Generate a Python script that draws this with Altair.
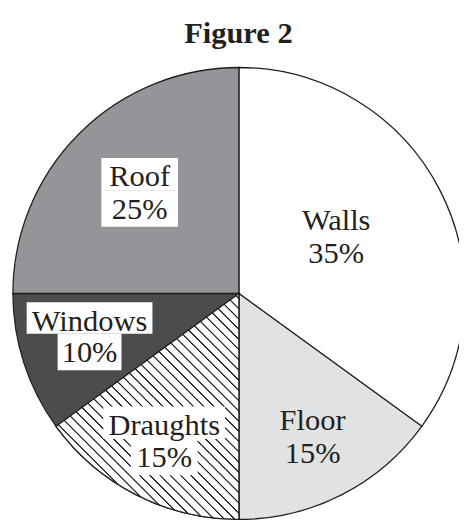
import math
import altair as alt
import pandas as pd

# ---------------- data ----------------
categories = ["Walls", "Floor", "Draughts", "Windows", "Roof"]
percent = [35, 15, 15, 10, 25]
pct_labels = ["35%", "15%", "15%", "10%", "25%"]
fills = ["#ffffff", "#e1e2e3", "#ffffff", "#4b4c4e", "#939598"]

# ---------------- layout (page pixels) ----------------
PAD_TOP = 60
SVG_H = 514
OX, OY = 8, 8 + PAD_TOP          # page -> view offset
CX, CY, R = 243, 294, 230        # pie centre and radius
label_cx = [342, 318, 167, 91, 142]
label_base1 = [229, 433, 438, 332, 185]
line_gap = [34, 34, 33, 32, 33]
boxed = [False, False, True, True, True]
box_w1 = [0, 0, 124, 128, 78]
box_w2 = [0, 0, 68, 65, 78]
INK = "#231f20"
FONT = "Liberation Serif"

pie_df = pd.DataFrame({
    "category": categories,
    "value": percent,
    "order": list(range(len(categories))),
})

rows_t, rows_b = [], []
for i, cat in enumerate(categories):
    b1 = label_base1[i]
    b2 = b1 + line_gap[i]
    for txt, b in ((cat, b1), (pct_labels[i], b2)):
        rows_t.append({"t": txt, "x": label_cx[i] - OX, "y": b - OY})
    if boxed[i]:
        top1 = b1 - 29
        top2 = b2 - 29
        rows_b.append({"x": label_cx[i] - box_w1[i] / 2 - OX, "x2": label_cx[i] + box_w1[i] / 2 - OX,
                       "y": top1 - OY, "y2": top2 - OY})
        rows_b.append({"x": label_cx[i] - box_w2[i] / 2 - OX, "x2": label_cx[i] + box_w2[i] / 2 - OX,
                       "y": top2 - OY, "y2": b2 + 8 - OY})
text_df = pd.DataFrame(rows_t)
box_df = pd.DataFrame(rows_b)

# ---------------- hatch gradient for Draughts ----------------
N = 40
ext = 294.0
stops = [{"offset": 0, "color": "#ffffff"}]
for k in range(N):
    c = (k + 0.5) / N
    a, b = 0.9 / ext, 0.35 / ext
    stops += [
        {"offset": c - a, "color": "#ffffff"},
        {"offset": c - b, "color": INK},
        {"offset": c + b, "color": INK},
        {"offset": c + a, "color": "#ffffff"},
    ]
stops.append({"offset": 1, "color": "#ffffff"})
hatch = {"gradient": "linear", "x1": 0, "y1": 1, "x2": 0.8846, "y2": -0.0934, "stops": stops}

theta = alt.Theta("v0:Q", scale=alt.Scale(domain=[0, 100], range=[0, 2 * math.pi]))

base = alt.Chart(pie_df).transform_stack(
    stack="value", groupby=[], as_=["v0", "v1"], sort=[alt.SortField("order", "ascending")]
)

arcs = base.mark_arc(radius=R, stroke=INK, strokeWidth=1.3).encode(
    theta=theta,
    theta2="v1:Q",
    x=alt.value(CX - OX),
    y=alt.value(CY - OY),
    fill=alt.Fill("category:N", scale=alt.Scale(domain=categories, range=fills), legend=None),
)

hatch_arc = base.transform_filter(alt.datum.category == "Draughts").mark_arc(
    radius=R, fill=hatch, stroke=INK, strokeWidth=1.3
).encode(
    theta=theta,
    theta2="v1:Q",
    x=alt.value(CX - OX),
    y=alt.value(CY - OY),
)

boxes = alt.Chart(box_df).mark_rect(fill="#ffffff").encode(
    x=alt.X("x:Q", scale=None), x2="x2:Q",
    y=alt.Y("y:Q", scale=None), y2="y2:Q",
)

texts = alt.Chart(text_df).mark_text(
    font=FONT, fontSize=31, color=INK, align="center", baseline="alphabetic"
).encode(
    x=alt.X("x:Q", scale=None),
    y=alt.Y("y:Q", scale=None),
    text="t:N",
)

chart = alt.layer(arcs, hatch_arc, boxes, texts).properties(
    width=459,
    height=SVG_H - PAD_TOP,
    padding={"top": PAD_TOP, "left": 0, "right": 0, "bottom": 0},
    autosize=alt.AutoSizeParams(type="none"),
    title=alt.TitleParams(
        "Figure 2", font=FONT, fontSize=31, fontWeight="bold", color=INK,
        anchor="middle", baseline="alphabetic", offset=29, dx=5, dy=38,
    ),
).configure(background="#ffffff").configure_view(stroke=None)

chart.save("out.html", embed_options={"renderer": "svg", "actions": False})
